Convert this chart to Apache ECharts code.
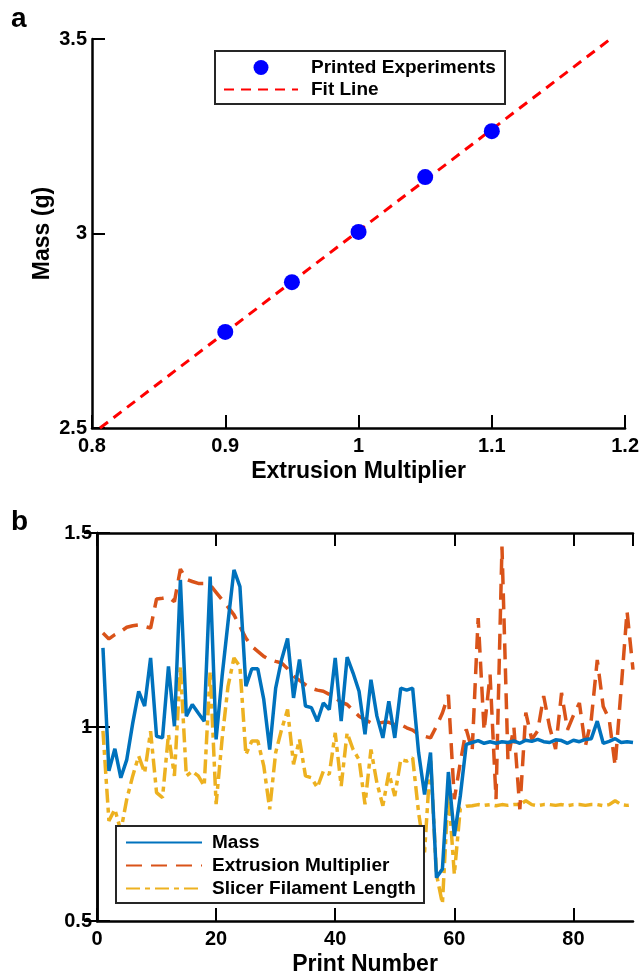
<!DOCTYPE html>
<html>
<head>
<meta charset="utf-8">
<script src="https://cdn.jsdelivr.net/npm/echarts@6/dist/echarts.min.js"></script>
<style>
html,body{margin:0;padding:0;background:#fff;}
#chart{width:642px;height:977px;}
</style>
</head>
<body>
<div id="chart"></div>
<script>
// ---- Panel a data ----
const expMultiplier = [0.9, 0.95, 1.0, 1.05, 1.1];
const expMass = [2.747, 2.875, 3.004, 3.145, 3.263];
const fitMultiplier = [0.806, 1.189];
const fitMass = [2.5, 3.5];
const aXTicks = [0.8, 0.9, 1.0, 1.1, 1.2];
const aYTicks = [2.5, 3.0, 3.5];

// ---- Panel b data ----
const printNumber = [1,2,3,4,5,6,7,8,9,10,11,12,13,14,15,16,17,18,19,20,21,22,23,24,25,26,27,28,29,30,
  31,32,33,34,35,36,37,38,39,40,41,42,43,44,45,46,47,48,49,50,51,52,53,54,55,56,57,58,59,60,
  61,62,63,64,65,66,67,68,69,70,71,72,73,74,75,76,77,78,79,80,81,82,83,84,85,86,87,88,89,90];
const massB = [1.204,0.887,0.944,0.869,0.916,1.01,1.092,1.054,1.178,0.976,
  0.972,1.156,1.002,1.379,1.028,1.058,1.036,1.015,1.388,0.968,
  1.13,1.27,1.405,1.362,1.105,1.15,1.15,1.071,0.942,1.10,
  1.174,1.228,1.075,1.174,1.054,1.05,1.015,1.062,1.045,1.178,
  1.015,1.18,1.139,1.092,0.981,1.122,1.028,0.972,1.066,0.972,
  1.10,1.095,1.10,0.934,0.826,0.934,0.612,0.634,0.884,0.719,
  0.822,0.955,0.96,0.965,0.958,0.962,0.958,0.962,0.96,0.964,
  0.958,0.966,0.963,0.968,0.962,0.96,0.967,0.965,0.958,0.966,
  0.962,0.968,0.97,1.015,0.958,0.963,0.97,0.96,0.962,0.96];
const extrusionB = [1.242,1.227,1.238,1.246,1.257,1.261,1.263,1.259,1.255,1.33,
  1.332,1.335,1.323,1.407,1.381,1.375,1.37,1.37,1.366,1.347,
  1.328,1.309,1.289,1.259,1.229,1.208,1.195,1.182,1.174,1.169,
  1.165,1.15,1.131,1.12,1.109,1.10,1.095,1.092,1.084,1.075,
  1.064,1.058,1.043,1.028,1.019,1.011,1.009,1.012,1.012,1.006,
  1.006,0.998,0.992,0.981,0.976,0.972,1.002,1.036,1.083,0.814,
  0.908,0.994,0.94,1.281,0.99,1.135,0.814,1.465,0.916,1.0,
  0.788,1.037,0.968,0.99,1.08,1.0,0.943,1.088,0.993,1.03,
  1.062,0.95,1.02,1.173,1.053,1.02,0.9,1.097,1.298,1.148];
const slicerB = [0.99,0.758,0.788,0.732,0.814,0.874,0.925,0.882,0.989,0.831,
  0.818,0.981,0.874,1.156,0.874,0.886,0.874,0.848,1.144,0.801,
  0.968,1.105,1.178,1.156,0.929,0.964,0.964,0.9,0.788,0.934,
  0.994,1.045,0.904,0.968,0.874,0.869,0.844,0.886,0.878,0.985,
  0.848,0.985,0.942,0.916,0.801,0.942,0.856,0.797,0.882,0.822,
  0.916,0.912,0.921,0.779,0.677,0.92,0.62,0.545,0.84,0.62,
  0.79,0.796,0.797,0.8,0.798,0.8,0.797,0.8,0.798,0.8,
  0.8,0.81,0.8,0.797,0.8,0.8,0.798,0.8,0.797,0.8,
  0.8,0.798,0.8,0.8,0.797,0.8,0.81,0.8,0.798,0.8];
const bXTicks = [0, 20, 40, 60, 80];
const bYTicks = [0.5, 1.0, 1.5];

const FONT = "'Liberation Sans', Arial, sans-serif";
const pairs = (xs, ys) => xs.map((x, i) => [x, ys[i]]);

const tickStyle = {inside: true, length: 13, lineStyle: {color: '#000', width: 2}};
const lineStyleAxis = {lineStyle: {color: '#000', width: 2.5}};
const labelStyle = {color: '#000', fontSize: 20, fontWeight: 'bold', fontFamily: FONT};
const nameStyle = {color: '#000', fontSize: 23, fontWeight: 'bold', fontFamily: FONT};
const noSymbol = {opacity: 0};

const chart = echarts.init(document.getElementById('chart'), null, {renderer: 'canvas'});
chart.setOption({
  animation: false,
  backgroundColor: '#fff',
  title: [
    {text: 'a', left: 11, top: 5, padding: 0, textStyle: {fontSize: 28, fontWeight: 'bold', fontFamily: FONT, color: '#000'}},
    {text: 'b', left: 11, top: 508, padding: 0, textStyle: {fontSize: 28, fontWeight: 'bold', fontFamily: FONT, color: '#000'}}
  ],
  grid: [
    {left: 92, top: 39, width: 536, height: 389, containLabel: false},
    {left: 97, top: 533, width: 536, height: 389, containLabel: false}
  ],
  xAxis: [
    {type: 'value', gridIndex: 0, min: aXTicks[0], max: aXTicks[aXTicks.length - 1], interval: 0.1,
     name: 'Extrusion Multiplier', nameLocation: 'middle', nameGap: 32, nameMoveOverlap: false, nameTextStyle: nameStyle,
     axisLine: lineStyleAxis, axisTick: tickStyle, splitLine: {show: false},
     axisLabel: {margin: 8, ...labelStyle, formatter: v => String(+v.toFixed(2))}},
    {type: 'value', gridIndex: 1, min: bXTicks[0], max: 90, interval: 20,
     name: 'Print Number', nameLocation: 'middle', nameGap: 32, nameMoveOverlap: false, nameTextStyle: nameStyle,
     axisLine: lineStyleAxis, axisTick: tickStyle, splitLine: {show: false},
     axisLabel: {margin: 8, ...labelStyle, showMaxLabel: false}},
    {type: 'value', gridIndex: 1, position: 'top', min: 0, max: 90, interval: 20,
     axisLine: lineStyleAxis, axisTick: tickStyle, splitLine: {show: false}, axisLabel: {show: false}}
  ],
  yAxis: [
    {type: 'value', gridIndex: 0, min: aYTicks[0], max: aYTicks[aYTicks.length - 1], interval: 0.5,
     name: 'Mass (g)', nameLocation: 'middle', nameGap: 38, nameMoveOverlap: false, nameTextStyle: nameStyle,
     axisLine: lineStyleAxis, axisTick: tickStyle, splitLine: {show: false},
     axisLabel: {margin: 5, ...labelStyle}},
    {type: 'value', gridIndex: 1, min: bYTicks[0], max: bYTicks[bYTicks.length - 1], interval: 0.5,
     axisLine: lineStyleAxis, axisTick: tickStyle, splitLine: {show: false},
     axisLabel: {margin: 5, ...labelStyle}},
    {type: 'value', gridIndex: 1, position: 'right', min: 0.5, max: 1.5, interval: 0.5,
     axisLine: lineStyleAxis, axisTick: tickStyle, splitLine: {show: false}, axisLabel: {show: false}}
  ],
  legend: [
    {data: [{name: 'Printed Experiments'}, {name: 'Fit Line', itemStyle: noSymbol}],
     orient: 'vertical', left: 223, top: 58, padding: 0,
     itemWidth: 74, itemHeight: 15, itemGap: 3, z: 100, selectedMode: false,
     textStyle: {color: '#000', fontSize: 19, fontWeight: 'bold', fontFamily: FONT, padding: [0, 0, 0, 8]}},
    {data: [{name: 'Mass', itemStyle: noSymbol}, {name: 'Extrusion Multiplier', itemStyle: noSymbol},
            {name: 'Slicer Filament Length', itemStyle: noSymbol}],
     orient: 'vertical', left: 125, top: 833, padding: 0,
     itemWidth: 76, itemHeight: 14, itemGap: 4, z: 100, selectedMode: false,
     textStyle: {color: '#000', fontSize: 19, fontWeight: 'bold', fontFamily: FONT, padding: [0, 0, 0, 5]}}
  ],
  graphic: [
    {type: 'rect', z: 50, shape: {x: 215, y: 51, width: 290, height: 53}, style: {fill: '#fff', stroke: '#262626', lineWidth: 2}},
    {type: 'rect', z: 50, shape: {x: 116, y: 826, width: 308, height: 77}, style: {fill: '#fff', stroke: '#262626', lineWidth: 2}}
  ],
  series: [
    {name: 'Fit Line', type: 'line', xAxisIndex: 0, yAxisIndex: 0, data: pairs(fitMultiplier, fitMass),
     symbol: 'none', lineStyle: {color: '#ff0000', width: 3, type: [10, 7]}, itemStyle: {color: '#ff0000'}, z: 2},
    {name: 'Printed Experiments', type: 'scatter', xAxisIndex: 0, yAxisIndex: 0, data: pairs(expMultiplier, expMass),
     symbol: 'circle', symbolSize: 16, itemStyle: {color: '#0000ff', opacity: 1}, z: 3},
    {name: 'Mass', type: 'line', xAxisIndex: 1, yAxisIndex: 1, data: pairs(printNumber, massB),
     symbol: 'none', lineStyle: {color: '#0072BD', width: 3.5}, itemStyle: {color: '#0072BD'}, z: 4},
    {name: 'Extrusion Multiplier', type: 'line', xAxisIndex: 1, yAxisIndex: 1, data: pairs(printNumber, extrusionB),
     symbol: 'none', lineStyle: {color: '#D95319', width: 3.5, type: [16, 9]}, itemStyle: {color: '#D95319'}, z: 3},
    {name: 'Slicer Filament Length', type: 'line', xAxisIndex: 1, yAxisIndex: 1, data: pairs(printNumber, slicerB),
     symbol: 'none', lineStyle: {color: '#EDB120', width: 3.5, type: [14, 5, 5, 5]}, itemStyle: {color: '#EDB120'}, z: 2}
  ]
});
</script>
</body>
</html>
